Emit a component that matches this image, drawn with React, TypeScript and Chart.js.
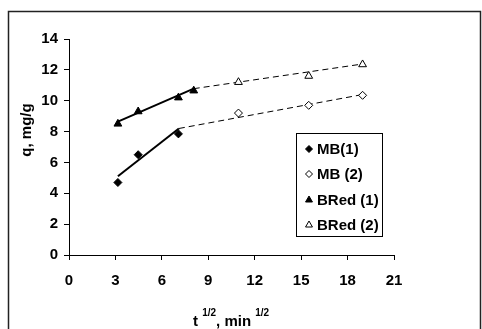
import React, { useEffect, useRef } from "react";
import { Chart, registerables } from "chart.js";

Chart.register(...registerables);

// Data (t^1/2, q)
const xPhase1 = [3.16, 4.47, 7.07];
const xPhase1BRed = [3.16, 4.47, 7.07, 8.06];
const xPhase2 = [10.95, 15.49, 18.97];
const mb1 = [4.7, 6.5, 7.85];
const mb2 = [9.2, 9.7, 10.35];
const bred1 = [8.5, 9.3, 10.2, 10.65];
const bred2 = [11.2, 11.6, 12.35];
// fitted lines: [x, y] end points
const mbFit1 = [[3.16, 5.1], [7.1, 8.2]];
const mbFit2 = [[7.1, 8.2], [18.97, 10.4]];
const bredFit1 = [[3.16, 8.65], [8.06, 10.78]];
const bredFit2 = [[8.06, 10.78], [18.97, 12.38]];
const xTicks = [0, 3, 6, 9, 12, 15, 18, 21];
const legendLabels = ["MB(1)", "MB (2)", "BRed (1)", "BRed (2)"];

const FONT = "'Liberation Sans', Arial, sans-serif";

const pts = (xs: number[], ys: number[]) => xs.map((x, i) => ({ x, y: ys[i] }));
const line = (p: number[][]) => p.map(([x, y]) => ({ x, y }));

export default function App() {
  const ref = useRef<HTMLCanvasElement | null>(null);
  useEffect(() => {
    if (!ref.current) return;
    const extras = {
      id: "extras",
      afterDraw(chart: any) {
        const ctx = chart.ctx;
        ctx.save();
        // outer frame
        ctx.strokeStyle = "#222";
        ctx.lineWidth = 1.5;
        ctx.beginPath();
        ctx.moveTo(8.5, 340);
        ctx.lineTo(8.5, 11.5);
        ctx.lineTo(480.5, 11.5);
        ctx.lineTo(480.5, 340);
        ctx.stroke();

        // y title
        ctx.fillStyle = "#000";
        ctx.font = `bold 15px ${FONT}`;
        ctx.textAlign = "center";
        ctx.textBaseline = "middle";
        ctx.translate(27, 130);
        ctx.rotate(-Math.PI / 2);
        ctx.fillText("q, mg/g", 0, 0);
        ctx.setTransform(1, 0, 0, 1, 0, 0);

        // x title with superscripts
        ctx.textAlign = "left";
        ctx.textBaseline = "alphabetic";
        let x = 193;
        const base = 326;
        const parts: [string, boolean][] = [["t ", false], ["1/2", true], [", min ", false], ["1/2", true]];
        for (const [s, sup] of parts) {
          ctx.font = sup ? `bold 10px ${FONT}` : `bold 15px ${FONT}`;
          ctx.fillText(s, x, sup ? base - 10 : base);
          x += ctx.measureText(s).width;
        }

        // legend
        ctx.strokeStyle = "#000";
        ctx.lineWidth = 1;
        ctx.fillStyle = "#fff";
        ctx.fillRect(296.5, 133.5, 86, 103);
        ctx.strokeRect(296.5, 133.5, 86, 103);
        const rows = [149, 174, 200, 225];
        const dsIdx = [0, 1, 2, 3];
        rows.forEach((ry, i) => {
          const ds = chart.data.datasets[dsIdx[i]];
          ctx.fillStyle = ds.pointBackgroundColor;
          ctx.strokeStyle = "#000";
          ctx.lineWidth = 1;
          const r = ds.pointStyle === "triangle" ? 4 : 3.5;
          (Chart as any).helpers
            ? null
            : null;
          drawMarker(ctx, ds.pointStyle, 309, ry, r, ds.pointBackgroundColor);
          ctx.fillStyle = "#000";
          ctx.font = `bold 15px ${FONT}`;
          ctx.textBaseline = "middle";
          ctx.textAlign = "left";
          ctx.fillText(legendLabels[i], 317, ry + 1);
        });
        ctx.restore();
      },
    };

    const chart = new Chart(ref.current, {
      type: "scatter",
      data: {
        datasets: [
          { label: legendLabels[0], data: pts(xPhase1, mb1), pointStyle: "rectRot", pointRadius: 4, pointBackgroundColor: "#000", pointBorderColor: "#000", pointBorderWidth: 1, showLine: false },
          { label: legendLabels[1], data: pts(xPhase2, mb2), pointStyle: "rectRot", pointRadius: 4, pointBackgroundColor: "#fff", pointBorderColor: "#000", pointBorderWidth: 1, showLine: false },
          { label: legendLabels[2], data: pts(xPhase1BRed, bred1), pointStyle: "triangle", pointRadius: 4.5, pointBackgroundColor: "#000", pointBorderColor: "#000", pointBorderWidth: 1, showLine: false },
          { label: legendLabels[3], data: pts(xPhase2, bred2), pointStyle: "triangle", pointRadius: 4.5, pointBackgroundColor: "#fff", pointBorderColor: "#000", pointBorderWidth: 1, showLine: false },
          { label: "fit1", data: line(mbFit1), showLine: true, pointRadius: 0, borderColor: "#000", borderWidth: 2 },
          { label: "fit2", data: line(mbFit2), showLine: true, pointRadius: 0, borderColor: "#000", borderWidth: 1, borderDash: [6, 4] },
          { label: "fit3", data: line(bredFit1), showLine: true, pointRadius: 0, borderColor: "#000", borderWidth: 2 },
          { label: "fit4", data: line(bredFit2), showLine: true, pointRadius: 0, borderColor: "#000", borderWidth: 1, borderDash: [6, 4] },
        ],
      } as any,
      options: {
        responsive: false,
        animation: false,
        devicePixelRatio: 1,
        layout: { padding: { left: 0, top: 39, right: 88, bottom: 0 } },
        plugins: { legend: { display: false }, tooltip: { enabled: false } },
        scales: {
          x: {
            type: "linear",
            min: 0,
            max: 21,
            afterFit: (s: any) => { s.height = 74; },
            afterBuildTicks: (s: any) => { s.ticks = xTicks.map((v) => ({ value: v })); },
            grid: { display: true, drawOnChartArea: false, tickLength: 5, color: "#000" },
            border: { color: "#000", width: 1 },
            ticks: { color: "#000", padding: 12, font: { family: FONT, size: 15, weight: "bold" }, maxRotation: 0 },
          },
          y: {
            type: "linear",
            min: 0,
            max: 14,
            afterFit: (s: any) => { s.width = 69; },
            grid: { display: true, drawOnChartArea: false, tickLength: 5, color: "#000" },
            border: { color: "#000", width: 1 },
            ticks: { color: "#000", stepSize: 2, padding: 6, font: { family: FONT, size: 15, weight: "bold" } },
          },
        },
      } as any,
      plugins: [extras],
    });
    return () => chart.destroy();
  }, []);
  return (
    <canvas
      ref={ref}
      width={482}
      height={329}
      style={{ position: "absolute", left: 0, top: 0, width: 482, height: 329 }}
    />
  );
}

function drawMarker(ctx: CanvasRenderingContext2D, style: string, x: number, y: number, r: number, fill: string) {
  ctx.beginPath();
  if (style === "triangle") {
    ctx.moveTo(x, y - r);
    ctx.lineTo(x + r * 0.866, y + r * 0.5);
    ctx.lineTo(x - r * 0.866, y + r * 0.5);
  } else {
    ctx.moveTo(x, y - r);
    ctx.lineTo(x + r, y);
    ctx.lineTo(x, y + r);
    ctx.lineTo(x - r, y);
  }
  ctx.closePath();
  ctx.fillStyle = fill;
  ctx.fill();
  ctx.strokeStyle = "#000";
  ctx.lineWidth = 1;
  ctx.stroke();
}
